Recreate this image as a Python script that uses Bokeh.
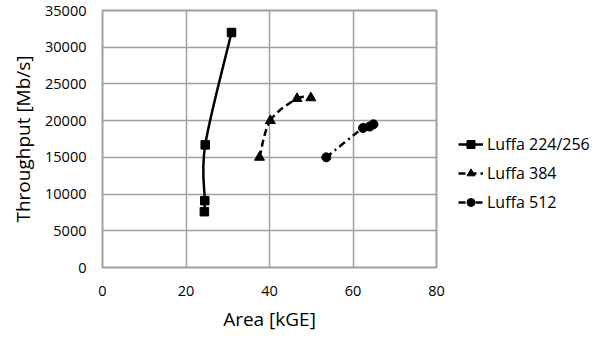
from bokeh.plotting import figure
from bokeh.models import Legend, LegendItem, ColumnDataSource, FixedTicker, Range1d
from bokeh.embed import file_html
from bokeh.resources import INLINE

# ---- data ----
series_names = ["Luffa 224/256", "Luffa 384", "Luffa 512"]
luffa256_area = [30.9, 24.6, 24.5, 24.4]
luffa256_tp = [32000, 16700, 9100, 7600]
luffa384_area = [37.6, 40.2, 46.6, 49.9]
luffa384_tp = [15000, 20000, 23000, 23100]
luffa512_area = [53.6, 62.4, 64.0, 64.9]
luffa512_tp = [15000, 19000, 19200, 19500]
x_ticks = [0, 20, 40, 60, 80]
y_ticks = [0, 5000, 10000, 15000, 20000, 25000, 30000, 35000]

FONT = "Open Sans"

p = figure(frame_width=334, frame_height=257, output_backend="svg",
           toolbar_location=None, x_range=Range1d(0, 80), y_range=Range1d(0, 35000),
           min_border_left=102, min_border_top=10, min_border_bottom=64, min_border_right=163)
p.background_fill_color = "white"
p.border_fill_color = "white"
p.outline_line_color = "#a0a0a0"
p.outline_line_width = 2

for ax in (p.xaxis[0], p.yaxis[0]):
    ax.axis_line_color = None
    ax.major_tick_line_color = None
    ax.minor_tick_line_color = None
    ax.major_tick_out = 0
    ax.major_tick_in = 0
    ax.minor_tick_out = 0
    ax.minor_tick_in = 0
    ax.major_label_text_font = FONT
    ax.major_label_text_font_size = "14.5px"
    ax.major_label_text_color = "black"
    ax.axis_label_text_font = FONT
    ax.axis_label_text_font_size = "19px"
    ax.axis_label_text_font_style = "normal"
    ax.axis_label_text_color = "black"

p.xaxis.ticker = FixedTicker(ticks=x_ticks)
p.yaxis.ticker = FixedTicker(ticks=y_ticks)
p.xaxis.axis_label = "Area [kGE]"
p.yaxis.axis_label = "Throughput [Mb/s]"
p.xaxis.major_label_standoff = 18
p.yaxis.major_label_standoff = 16
p.xaxis.axis_label_standoff = 7
p.yaxis.axis_label_standoff = 6

p.grid.grid_line_color = "#a0a0a0"
p.grid.grid_line_width = 1.5
p.xgrid.ticker = FixedTicker(ticks=x_ticks)
p.ygrid.ticker = FixedTicker(ticks=y_ticks)


def smooth_segments(xs, ys):
    # Bezier control points for a smoothed line through the data points
    n = len(xs)
    out = {k: [] for k in ("x0", "y0", "x1", "y1", "cx0", "cy0", "cx1", "cy1")}
    for i in range(n - 1):
        ip = max(i - 1, 0)
        inn = min(i + 2, n - 1)
        out["x0"].append(xs[i]); out["y0"].append(ys[i])
        out["x1"].append(xs[i + 1]); out["y1"].append(ys[i + 1])
        out["cx0"].append(xs[i] + (xs[i + 1] - xs[ip]) / 6)
        out["cy0"].append(ys[i] + (ys[i + 1] - ys[ip]) / 6)
        out["cx1"].append(xs[i + 1] - (xs[inn] - xs[i]) / 6)
        out["cy1"].append(ys[i + 1] - (ys[inn] - ys[i]) / 6)
    return out


data = [(luffa256_area, luffa256_tp, "square", 8.5, "solid"),
        (luffa384_area, luffa384_tp, "triangle", 10, "7 4"),
        (luffa512_area, luffa512_tp, "circle", 9, "7 4 2 4")]

items = []
for name, (xs, ys, marker, size, dash) in zip(series_names, data):
    seg = ColumnDataSource(smooth_segments(xs, ys))
    p.bezier(x0="x0", y0="y0", x1="x1", y1="y1", cx0="cx0", cy0="cy0",
             cx1="cx1", cy1="cy1", source=seg, line_color="black", line_width=2.5,
             line_dash=dash)
    lg = p.line(x=xs[:1], y=ys[:1], line_color="black", line_width=2.5, line_dash=dash)
    sc = p.scatter(x=xs, y=ys, marker=marker, size=size, fill_color="black", line_color="black")
    items.append(LegendItem(label=name, renderers=[lg, sc]))

legend = Legend(items=items, location=(22, 51), padding=0, margin=0, spacing=1,
                glyph_width=25, glyph_height=20, label_height=28, label_standoff=4,
                label_text_font=FONT, label_text_font_size="16px", label_text_color="black",
                border_line_alpha=0, background_fill_alpha=0)
p.add_layout(legend, "right")

open("out.html", "w").write(file_html(p, INLINE))
